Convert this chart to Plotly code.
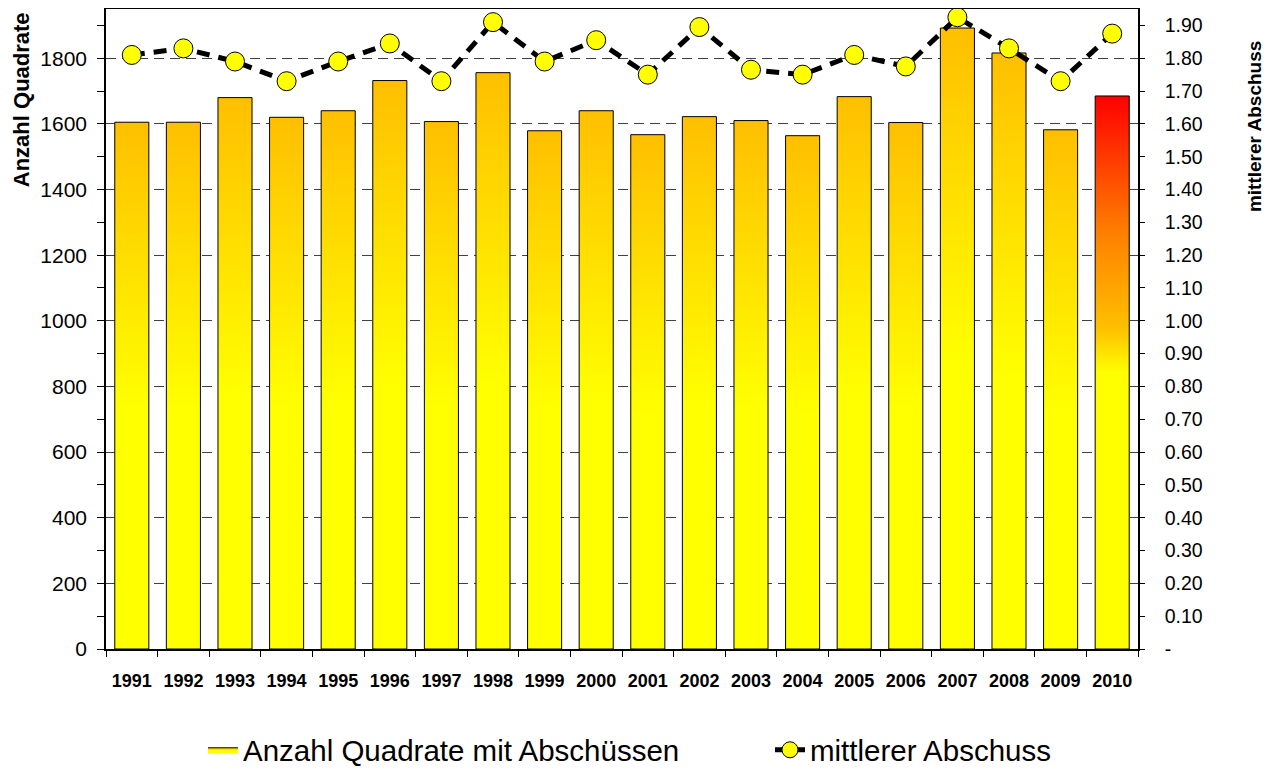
import plotly.graph_objects as go

years = [str(y) for y in range(1991, 2011)]
anzahl_quadrate = [1605, 1605, 1680, 1620, 1640, 1732, 1607, 1756, 1579, 1640,
                   1567, 1622, 1610, 1564, 1683, 1604, 1892, 1816, 1582, 1685]
mittlerer_abschuss = [1.81, 1.83, 1.79, 1.73, 1.79, 1.845, 1.73, 1.91, 1.79, 1.855,
                      1.75, 1.895, 1.765, 1.75, 1.81, 1.775, 1.925, 1.83, 1.73, 1.875]
left_ticks = list(range(0, 2000, 200))
right_ticks = [round(i * 0.1, 2) for i in range(0, 20)]
right_ticktext = ["-" if v == 0 else f"{v:.2f}" for v in right_ticks]

FONT = "Arial, Liberation Sans, sans-serif"
bar_width = 0.66
normal_scale = [[0, "#FFFF00"], [0.46, "#FFFF00"], [1, "#FFBF00"]]
last_scale = [[0, "#FFFF00"], [0.5, "#FFFF00"], [0.58, "#FFC000"], [0.75, "#FF8000"], [1, "#FF0000"]]

n = len(years)
boundaries = [i - 0.5 for i in range(n + 1)]

fig = go.Figure()
for i, (yr, v) in enumerate(zip(years, anzahl_quadrate)):
    xs = [i - bar_width / 2, i + bar_width / 2, i + bar_width / 2, i - bar_width / 2, i - bar_width / 2]
    ys = [0, 0, v, v, 0]
    fig.add_trace(go.Scatter(
        x=xs, y=ys, mode="lines", fill="toself",
        fillgradient=dict(type="vertical", colorscale=last_scale if yr == "2010" else normal_scale),
        line=dict(color="black", width=1),
        name="Anzahl Quadrate mit Abschüssen",
        legendgroup="bars", showlegend=(i == 0), legend="legend",
        hoverinfo="skip",
    ))

fig.add_trace(go.Scatter(
    x=list(range(n)), y=mittlerer_abschuss, yaxis="y2",
    mode="lines+markers", name="mittlerer Abschuss", legend="legend2",
    line=dict(color="black", width=5, dash="13px,9px"),
    marker=dict(size=19, color="#FFFF00", line=dict(color="black", width=1)),
))

legend_common = dict(orientation="h", y=-0.158, yanchor="middle", xanchor="left",
                     font=dict(size=29.5, family=FONT), bgcolor="rgba(0,0,0,0)")

fig.update_layout(
    width=1258, height=762,
    margin=dict(l=98, r=128, t=1, b=121, autoexpand=False),
    plot_bgcolor="white", paper_bgcolor="white",
    font=dict(family=FONT, color="black"),
    showlegend=True,
    legend=dict(x=0.094, **legend_common),
    legend2=dict(x=0.6434, **legend_common),
    xaxis=dict(
        range=[-0.5, n - 0.5],
        tickvals=list(range(n)), ticktext=[f"<b>{y}</b>" for y in years],
        tickfont=dict(size=18), ticks="", ticklabelstandoff=15,
        showgrid=False, zeroline=False,
        showline=True, linecolor="black", linewidth=1.5, mirror=True,
        minor=dict(tickvals=boundaries, ticks="outside", ticklen=6, tickcolor="black", showgrid=False),
    ),
    xaxis2=dict(
        range=[-0.5, n - 0.5], overlaying="x", anchor="y",
        tickvals=boundaries, showticklabels=False, ticks="inside", ticklen=5, tickcolor="black",
        showgrid=False, zeroline=False, showline=False,
    ),
    yaxis=dict(
        range=[0, 1950], tickvals=left_ticks, ticks="outside", ticklen=7, tickcolor="black",
        tickfont=dict(size=21), ticklabelstandoff=6,
        showgrid=True, gridcolor="#404040", griddash="10px,6px", gridwidth=1,
        zeroline=False, showline=True, linecolor="black", linewidth=1.5, mirror=True,
        minor=dict(dtick=100, ticks="outside", ticklen=7, tickcolor="black", showgrid=False),
    ),
    yaxis2=dict(
        range=[0, 1.95], overlaying="y", side="right", anchor="x",
        tickvals=right_ticks, ticktext=right_ticktext,
        ticks="outside", ticklen=5, tickcolor="black", tickfont=dict(size=19.5),
        ticklabelstandoff=16,
        showgrid=False, zeroline=False, showline=True, linecolor="black", linewidth=1.5,
    ),
    yaxis3=dict(
        range=[0, 1.95], overlaying="y", side="right", anchor="x",
        tickvals=right_ticks, showticklabels=False,
        ticks="inside", ticklen=6, tickcolor="black",
        showgrid=False, zeroline=False, showline=False,
    ),
    annotations=[
        dict(text="<b>Anzahl Quadrate</b>", xref="paper", yref="paper", x=-0.0824, y=0.859,
             xanchor="center", yanchor="middle", textangle=-90, showarrow=False,
             font=dict(size=22, family=FONT)),
        dict(text="<b>mittlerer Abschuss</b>", xref="paper", yref="paper", x=1.1124, y=0.817,
             xanchor="center", yanchor="middle", textangle=-90, showarrow=False,
             font=dict(size=19, family=FONT)),
    ],
)

fig.write_html("out.html")
